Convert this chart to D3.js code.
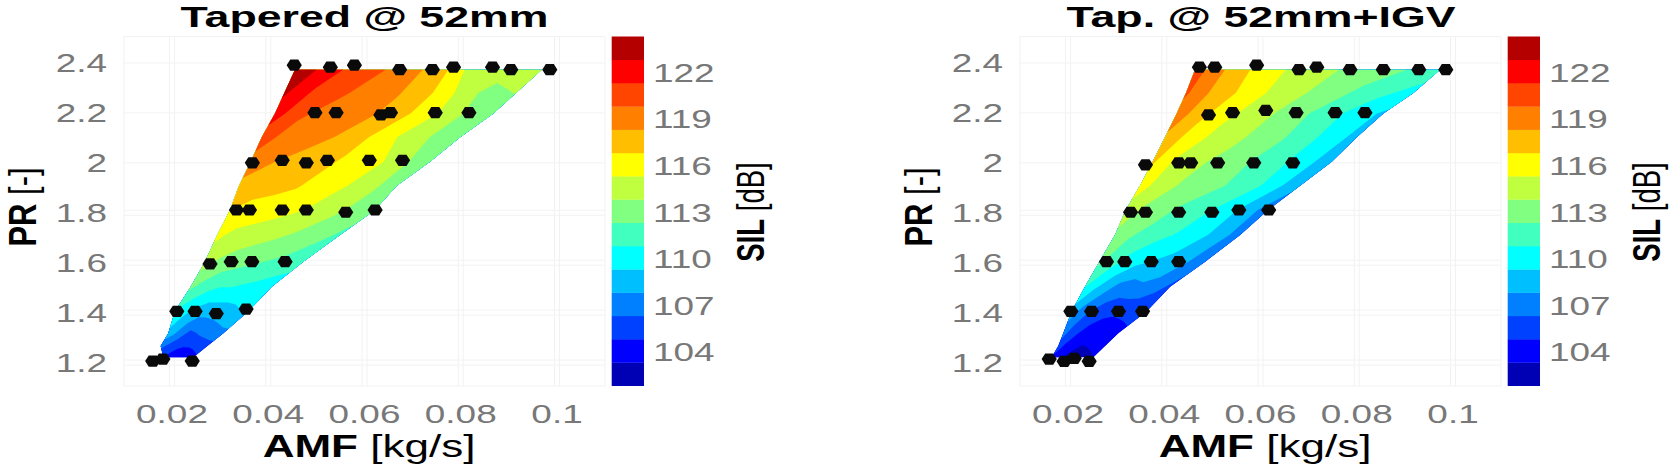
<!DOCTYPE html>
<html>
<head>
<meta charset="utf-8">
<script src="https://cdnjs.cloudflare.com/ajax/libs/d3/7.8.5/d3.min.js"></script>
<style>
html,body{margin:0;padding:0;background:#fff;overflow:hidden}
text{font-family:"Liberation Sans",Arial,sans-serif}
</style>
</head>
<body>
<svg id="chart" width="1670" height="465">
  <defs><filter id="soft" x="-5%" y="-5%" width="110%" height="110%"><feGaussianBlur stdDeviation="0.7"/></filter></defs>
</svg>
<script>
const amfTicks = [0.02, 0.04, 0.06, 0.08, 0.1];
const prTicks = [1.2, 1.4, 1.6, 1.8, 2, 2.2, 2.4];
const silTicks = [104, 107, 110, 113, 116, 119, 122];
const bandEdges = [101.75,103.25,104.75,106.25,107.75,109.25,110.75,112.25,113.75,115.25,116.75,118.25,119.75,121.25,122.75,124.25];
const bandColors = ["#0000b5","#0000ff","#0040ff","#0080ff","#00bfff","#00ffff","#40ffbf","#80ff80","#bfff40","#ffff00","#ffbf00","#ff8000","#ff4500","#ff0000","#b50000"];

// Operating-map rows, top to bottom: pressure ratio and the AMF limits of the map
const rowPR = [2.373,2.280,2.198,2.102,2.004,1.908,1.811,1.711,1.604,1.504,1.405,1.317,1.266,1.221];

const taperedLeft  = [0.04556,0.04334,0.0414,0.03864,0.03635,0.03392,0.03205,0.02941,0.02686,0.02389,0.02062,0.01923,0.01765,0.01819];
const taperedRight = [0.09682,0.09148,0.08677,0.07985,0.07361,0.06669,0.06218,0.05491,0.04728,0.04072,0.03585,0.03066,0.02733,0.02443];
const taperedSil = [
  [124,122.2,120.5,119.7,118.5,116.7,113.8,114.5,114.6],
  [123,121,120,119,118.3,117,115,113.2,113.8],
  [122,120,119.2,118.7,118.1,116.7,115.2,113.6,112.8],
  [120.5,119.2,118.8,118.2,117.2,115.8,114.6,113.5,112.6],
  [119.2,118.3,117.8,117.4,116.6,115.9,115.2,113.8,112.8],
  [117.8,117.5,117.3,116.9,116,115.5,115,113.9,112.8],
  [116.8,116.2,115.9,115.7,115.3,114.8,114,113.3,112.6],
  [115.6,114.9,114.7,114.3,114,113.6,113.2,112.6,112],
  [114.4,113.6,113,112.8,112.5,112.2,112,111.6,111.3],
  [112.6,111.8,111.2,110.8,110.8,110.6,110.4,110.2,110],
  [110.6,109.8,108.9,108.4,108.4,108.5,108.8,109.2,109.5],
  [108.8,107.8,106.8,105.9,106.2,106.6,106.9,107.2,107.3],
  [106.6,106.1,105.6,105.1,104.9,104.9,105.1,105.4,105.6],
  [105,104.4,104,103.8,103.6,103.7,103.9,104.2,104.5]
];
const taperedAmf = [0.0454,0.0529,0.0579,0.0673,0.0741,0.0785,0.0866,0.0904,0.0985,
  0.0497,0.0541,0.0634,0.0654,0.0747,0.0817,
  0.0367,0.0429,0.0479,0.0523,0.0610,0.0679,
  0.0334,0.0361,0.0429,0.0479,0.0561,0.0622,
  0.0279,0.0323,0.0366,0.0435,
  0.0210,0.0248,0.0292,0.0354,
  0.0160,0.0181,0.0242];
const taperedPr = [2.391,2.383,2.391,2.373,2.373,2.383,2.383,2.373,2.373,
  2.201,2.201,2.192,2.201,2.201,2.201,
  2.000,2.010,2.000,2.010,2.010,2.010,
  1.811,1.811,1.811,1.811,1.802,1.811,
  1.595,1.604,1.604,1.604,
  1.405,1.405,1.396,1.414,
  1.206,1.214,1.206];

const igvLeft  = [0.04639,0.04452,0.04258,0.04016,0.0376,0.03496,0.0320,0.02977,0.02651,0.02353,0.02077,0.01902,0.01798,0.01661];
const igvRight = [0.0973,0.09175,0.08552,0.07999,0.07479,0.06821,0.06156,0.05574,0.04847,0.0412,0.03635,0.03045,0.02769,0.02526];
const igvSil = [
  [120.5,118.2,116.4,115.2,114.3,113.5,112.8,112.2,111.5],
  [120,117.8,116.4,115,114,113,112,111,110.2],
  [119.2,117.2,115.6,114.6,113.5,112.4,111.3,110,109],
  [118,116.2,114.9,114.2,113,112.3,111.2,110,108.7],
  [117,115,114.1,113.3,112.5,111.8,110.8,109.5,108.5],
  [116,114.5,113.6,113,112.4,111.8,110.8,109.4,108],
  [114.6,113.5,112.8,112,111.4,110.6,109.6,108.3,107],
  [113.4,112.4,111.8,111.1,110.6,110,109.2,108.1,107],
  [112.6,111.5,110.2,109.6,109.2,108.9,108.5,107.5,106.6],
  [110.8,109.5,108.5,107.4,107.1,107.5,107.3,106.6,106],
  [108.6,107.2,106.2,105.6,105.2,105,105.1,105.3,105.5],
  [106.8,105.7,104.9,104.2,103.8,104,104.1,104.2,104.4],
  [105.6,104.6,103.9,103.5,103.2,103.3,103.5,103.7,103.9],
  [104.6,103.8,103.3,102.9,102.7,102.6,102.8,103,103.4]
];
const igvAmf = [0.0473,0.0505,0.0592,0.0680,0.0717,0.0786,0.0855,0.0929,0.0985,
  0.0492,0.0542,0.0611,0.0674,0.0755,0.0817,
  0.0361,0.0430,0.0455,0.0511,0.0586,0.0667,
  0.0330,0.0361,0.0430,0.0499,0.0555,0.0617,
  0.0280,0.0318,0.0373,0.0430,
  0.0206,0.0249,0.0305,0.0355,
  0.0161,0.0192,0.0213,0.0244];
const igvPr = [2.383,2.383,2.391,2.373,2.383,2.373,2.373,2.373,2.373,
  2.192,2.201,2.210,2.201,2.201,2.201,
  1.992,2.000,2.000,2.000,2.000,2.000,
  1.802,1.802,1.802,1.802,1.811,1.811,
  1.604,1.604,1.604,1.604,
  1.405,1.405,1.405,1.405,
  1.214,1.205,1.217,1.205];

const SX = 1.42;               // the source picture is stretched horizontally
const svg = d3.select("#chart");
const TICK = "#787878", GRID = "#f2f2f2";
const hexShape = [[-7.6,0],[-4,-5.6],[4,-5.6],[7.6,0],[4,5.6],[-4,5.6]];

function label(g, parts, x, y, size, color, anchor, rotate, sx) {
  const t = g.append("text")
    .attr("transform", `translate(${x},${y}) scale(${sx || SX},1)` + (rotate ? " rotate(-90)" : ""))
    .attr("text-anchor", anchor).attr("font-size", size).attr("fill", color);
  parts.forEach(p => t.append("tspan").attr("font-weight", p[1]).text(p[0]));
  return t;
}

function panel(cfg) {
  const g = svg.append("g").attr("transform", `translate(${cfg.dx},0)`);
  const x = d3.scaleLinear().domain([0.01003, 0.10997]).range([124, 605]);
  const y = d3.scaleLinear().domain([1.106, 2.506]).range([386, 36.5]);
  const sil = d3.scaleLinear().domain([bandEdges[0], bandEdges[bandEdges.length-1]]).range([385.7, 36.5]);

  // grid
  g.append("rect").attr("x",124).attr("y",36.5).attr("width",481).attr("height",349.5)
    .attr("fill","none").attr("stroke",GRID);
  prTicks.forEach(v => {
    if (v < 1.9) {
      g.append("line").attr("x1",124).attr("x2",605).attr("y1",y(v)-2.5).attr("y2",y(v)-2.5).attr("stroke",GRID);
      g.append("line").attr("x1",124).attr("x2",605).attr("y1",y(v)+2.5).attr("y2",y(v)+2.5).attr("stroke",GRID);
    } else {
      g.append("line").attr("x1",124).attr("x2",605).attr("y1",y(v)).attr("y2",y(v)).attr("stroke",GRID);
    }
  });
  amfTicks.forEach(v => {
    [-2.5,2.5].forEach(o => g.append("line").attr("x1",x(v)+o).attr("x2",x(v)+o).attr("y1",36.5).attr("y2",386).attr("stroke",GRID));
  });

  // filled contours
  const nRow = cfg.sil.length, nCol = cfg.sil[0].length;
  const contours = d3.contours().size([nCol, nRow]).thresholds(bandEdges.slice(0,-1))(cfg.sil.flat());
  const lerp = (arr, r) => { const i = Math.min(Math.floor(r), arr.length-2); return arr[i] + (arr[i+1]-arr[i])*(r-i); };
  const project = ([gx, gy]) => {
    const u = Math.max(0, Math.min(1, (gx-0.5)/(nCol-1)));
    const r = Math.max(0, Math.min(nRow-1, gy-0.5));
    const l = lerp(cfg.left, r), ri = lerp(cfg.right, r);
    return [x(l + (ri-l)*u), y(lerp(rowPR, r))];
  };
  const path = mp => mp.coordinates.map(poly => poly.map(ring =>
      "M" + ring.map(project).map(p => p[0].toFixed(2)+","+p[1].toFixed(2)).join("L") + "Z").join("")).join("");
  g.append("g").attr("filter","url(#soft)").selectAll("path").data(contours).join("path")
    .attr("d", path).attr("fill-rule","evenodd")
    .attr("fill", (d,i) => bandColors[i]);

  // measured points
  const hex = d3.line().curve(d3.curveLinearClosed);
  g.append("g").selectAll("path").data(cfg.amf).join("path")
    .attr("transform", (d,i) => `translate(${x(d)},${y(cfg.pr[i])})`)
    .attr("d", hex(hexShape)).attr("fill","#0a0a0a");

  // axes text
  prTicks.forEach(v => label(g, [[String(v),"normal"]], 107, y(v)+9.5, 26, TICK, "end"));
  amfTicks.forEach(v => label(g, [[String(v),"normal"]], x(v), 422.5, 26, TICK, "middle"));
  label(g, [["AMF","bold"],[" [kg/s]","normal"]], 369, 456.5, 31, "#000", "middle");
  label(g, [["PR","bold"],[" [-]","normal"]], 36, 207, 31, "#000", "middle", true, 1.28);
  label(g, [[cfg.title,"bold"]], cfg.titleX, 26.5, 29, "#000", "middle", false, 1.54);

  // colour bar
  g.append("g").selectAll("rect").data(bandColors).join("rect")
    .attr("x",611.7).attr("width",32.3)
    .attr("y",(d,i)=>sil(bandEdges[i+1]))
    .attr("height",(d,i)=>sil(bandEdges[i])-sil(bandEdges[i+1])+0.3)
    .attr("fill",d=>d);
  silTicks.forEach(v => label(g, [[String(v),"normal"]], 653, sil(v)+10.5, 26, TICK, "start"));
  label(g, [["SIL","bold"],[" [dB]","normal"]], 764, 212, 27.5, "#000", "middle", true);
}

panel({dx:0, title:"Tapered @ 52mm", titleX:364.5, left:taperedLeft, right:taperedRight, sil:taperedSil, amf:taperedAmf, pr:taperedPr});
panel({dx:896, title:"Tap. @ 52mm+IGV", titleX:365, left:igvLeft, right:igvRight, sil:igvSil, amf:igvAmf, pr:igvPr});
</script>
</body>
</html>
